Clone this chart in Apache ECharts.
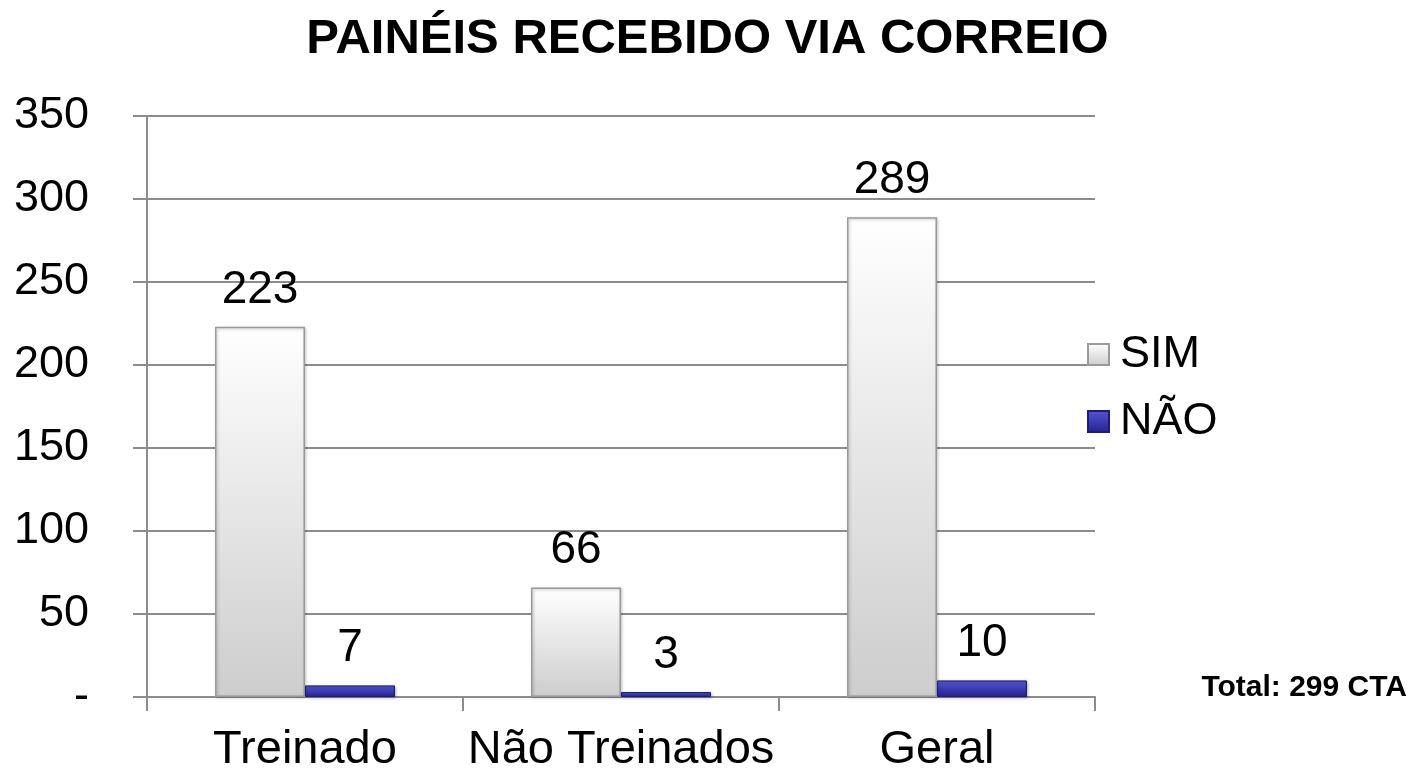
<!DOCTYPE html>
<html><head><meta charset="utf-8">
<script src="https://cdn.jsdelivr.net/npm/echarts@6/dist/echarts.min.js"></script>
<style>html,body{margin:0;padding:0;background:#fff}#c{width:1415px;height:774px}</style>
</head><body><div id="c"></div>
<script>
var categories = ['Treinado', 'Não Treinados', 'Geral'];
var simValues = [223, 66, 289];
var naoValues = [7, 3, 10];
var seriesNames = ['SIM', 'NÃO'];
var chartTitle = 'PAINÉIS RECEBIDO VIA CORREIO';
var totalNote = 'Total: 299 CTA';

var FONT = '"Liberation Sans", Arial, sans-serif';
var chart = echarts.init(document.getElementById('c'), null, {renderer: 'canvas'});
chart.setOption({
  animation: false,
  backgroundColor: '#ffffff',
  title: [
    {text: chartTitle, left: 'center', top: 10,
     textStyle: {fontFamily: FONT, fontWeight: 'bold', fontSize: 49, color: '#000'}},
    {text: totalNote, right: 3, top: 668,
     textStyle: {fontFamily: FONT, fontWeight: 'bold', fontSize: 30, color: '#000'}}
  ],
  legend: {
    orient: 'vertical', left: 1082, top: 327, itemWidth: 21, itemHeight: 21, itemGap: 22,
    icon: 'rect',
    textStyle: {fontFamily: FONT, fontSize: 45, color: '#000', padding: [0, 0, 0, 6]},
    data: seriesNames
  },
  grid: {left: 147, right: 320, top: 116, bottom: 76, containLabel: false},
  xAxis: {
    type: 'category', data: categories,
    axisLine: {lineStyle: {color: '#8c8c8c', width: 2}},
    axisTick: {show: true, length: 14, lineStyle: {color: '#8c8c8c', width: 2}},
    axisLabel: {fontFamily: FONT, fontSize: 47, color: '#000', margin: 30, interval: 0, hideOverlap: false}
  },
  yAxis: {
    type: 'value', min: 0, max: 350, interval: 50,
    axisLine: {show: true, lineStyle: {color: '#8c8c8c', width: 2}},
    axisTick: {show: true, length: 14, lineStyle: {color: '#8c8c8c', width: 2}},
    splitLine: {lineStyle: {color: '#8c8c8c', width: 2}},
    axisLabel: {fontFamily: FONT, fontSize: 45, color: '#000', margin: 58,
      formatter: function (v) { return v === 0 ? '-' : String(v); }}
  },
  series: [
    {name: seriesNames[0], type: 'bar', data: simValues, barWidth: 90, barGap: '0%',
     itemStyle: {
       color: new echarts.graphic.LinearGradient(0, 0, 0, 1, [
         {offset: 0, color: '#ffffff'}, {offset: 1, color: '#cdcdcd'}]),
       borderColor: '#9a9a9a', borderWidth: 1.5,
       shadowColor: 'rgba(0,0,0,0.25)', shadowBlur: 3, shadowOffsetX: 1, shadowOffsetY: 1
     },
     label: {show: true, position: 'top', distance: 14, fontFamily: FONT, fontSize: 46, color: '#000'}
    },
    {name: seriesNames[1], type: 'bar', data: naoValues, barWidth: 90,
     itemStyle: {
       color: new echarts.graphic.LinearGradient(0, 0, 0, 1, [
         {offset: 0, color: '#5656d6'}, {offset: 1, color: '#22228e'}]),
       borderColor: '#1c1c78', borderWidth: 1,
       shadowColor: 'rgba(0,0,0,0.25)', shadowBlur: 3, shadowOffsetX: 1, shadowOffsetY: 1
     },
     label: {show: true, position: 'top', distance: 14, fontFamily: FONT, fontSize: 46, color: '#000'}
    }
  ]
});
</script></body></html>
